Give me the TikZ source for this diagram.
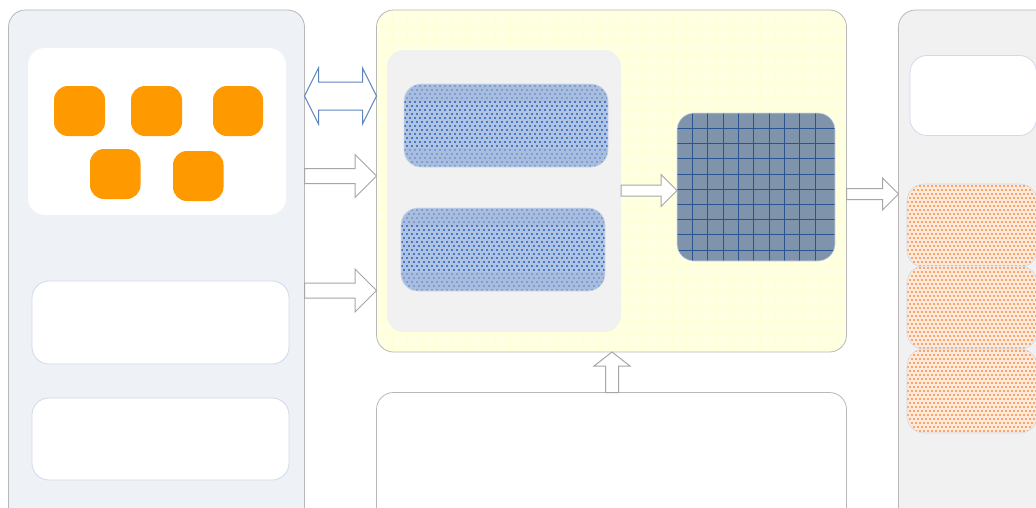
\documentclass[tikz,border=0pt]{standalone}
\usetikzlibrary{calc}
\definecolor{panelL}{HTML}{EEF1F6}
\definecolor{panelY}{HTML}{FFFFE2}
\definecolor{panelYl}{HTML}{FFFFD6}
\definecolor{panelG}{HTML}{F1F1F1}
\definecolor{edgeG}{HTML}{B8B8B8}
\definecolor{edgeB}{HTML}{CFDAEA}
\definecolor{orangeF}{HTML}{FF9900}
\definecolor{blueBase}{HTML}{AFC3E2}
\definecolor{blueBand}{HTML}{A9BEDF}
\definecolor{blueBandDot}{HTML}{7F9DD0}
\definecolor{blueDot}{HTML}{4A76C4}
\definecolor{darkBase}{HTML}{7F93AB}
\definecolor{darkLine}{HTML}{2A5491}
\definecolor{orangeDot}{HTML}{FBA468}
\definecolor{orangeBase}{HTML}{FDEADD}
\definecolor{arrowB}{HTML}{5B84BF}
\definecolor{arrowG}{HTML}{A6A6A6}
\tikzset{
  x=1pt,y=-1pt,
  box/.style={shape=rectangle,rounded corners=#1,line width=0.8pt,inner sep=0pt,outer sep=0pt},
  box/.default=17pt,
  blockarrow/.style={draw=arrowG,fill=white,line width=1pt,line join=miter},
  blockarrowB/.style={draw=arrowB,fill=white,line width=1pt,line join=miter},
}
% \rect{name}{x1}{y1}{x2}{y2}{style}: rounded node spanning the given box
\newcommand{\rect}[6]{%
  \pgfmathsetmacro{\wdx}{#4-#2}\pgfmathsetmacro{\htx}{#5-#3}%
  \node[box,#6,minimum width=\wdx pt,minimum height=\htx pt] (#1) at ({(#2+#4)/2},{(#3+#5)/2}) {};}
% right-pointing block arrow: start, tip, shaft half, head half, head length
\newcommand{\rightblock}[5]{%
  \draw[blockarrow] ($(#1)+(0,-#3)$) -- ($(#2)+(-#5,-#3)$) -- ($(#2)+(-#5,-#4)$) -- (#2)
    -- ($(#2)+(-#5,#4)$) -- ($(#2)+(-#5,#3)$) -- ($(#1)+(0,#3)$) -- cycle;}
% blue dotted box: dots snapped to the pixel grid
\newcommand{\bluebox}[5]{%
  \rect{#1}{#2}{#3}{#4}{#5}{fill=blueBase}
  \begin{scope}
    \clip[rounded corners=17pt] (#2,#3) rectangle (#4,#5);
    \fill[blueBand] (#2,#3) rectangle (#4,#3+18);
    \fill[blueBand] (#2,#5-19) rectangle (#4,#5);
    \foreach \r in {0,...,20}{
      \foreach \c in {0,...,41}{
        \pgfmathsetmacro{\px}{#2+\c*5+mod(\r,2)*2}
        \pgfmathsetmacro{\py}{#3+1+\r*4}
        \pgfmathsetmacro{\inband}{(\py<#3+16)||(\py>#5-19)}
        \ifdim\inband pt>0.5pt
          \fill[blueBandDot] (\px,\py) rectangle (\px+2,\py+2);
        \else
          \fill[blueDot] (\px,\py) rectangle (\px+2,\py+2);
        \fi
      }
    }
  \end{scope}
  \draw[rounded corners=17pt,draw=edgeB,line width=.6pt] (#2,#3) rectangle (#4,#5);}
% orange dotted box: dots snapped to the pixel grid
\newcommand{\orangebox}[5]{%
  \rect{#1}{#2}{#3}{#4}{#5}{fill=orangeBase}
  \begin{scope}
    \clip[rounded corners=17pt] (#2,#3) rectangle (#4,#5);
    \foreach \r in {0,...,21}{
      \foreach \c in {0,...,32}{
        \pgfmathsetmacro{\px}{#2+\c*4+mod(\r,2)*2}
        \pgfmathsetmacro{\py}{#3+1+\r*4}
        \fill[orangeDot] (\px,\py) rectangle (\px+2,\py+2);
      }
    }
  \end{scope}
  \draw[rounded corners=17pt,draw=edgeB,line width=.6pt] (#2,#3) rectangle (#4,#5);}
\begin{document}
\begin{tikzpicture}
\clip (0,0) rectangle (1036,507);
\fill[white] (0,0) rectangle (1036,507);
% left panel
\rect{left}{8.5}{10}{304.5}{530}{fill=panelL,draw=edgeG}
\rect{chips}{28}{48}{286}{215}{fill=white}
\rect{o1}{54}{86}{105}{136}{fill=orangeF,rounded corners=14pt}
\rect{o2}{131}{86}{182}{136}{fill=orangeF,rounded corners=14pt}
\rect{o3}{213}{86}{263}{136}{fill=orangeF,rounded corners=14pt}
\rect{o4}{90}{149}{140.5}{199}{fill=orangeF,rounded corners=14pt}
\rect{o5}{173}{151}{223.5}{201}{fill=orangeF,rounded corners=14pt}
\rect{l2}{32}{281}{289}{364}{fill=white,draw=edgeB}
\rect{l3}{32}{398}{289}{480}{fill=white,draw=edgeB}
% centre panel
\rect{centre}{376.5}{10}{846.5}{352}{fill=panelY,draw=edgeG}
\begin{scope}
  \clip[rounded corners=17pt] (377,11) rectangle (846,351);
  \foreach \i in {1,...,31} \draw[panelYl,line width=.8pt] (378+14.7*\i,10)--(378+14.7*\i,352);
  \foreach \i in {1,...,24} \draw[panelYl,line width=.8pt] (376,12+14*\i)--(846,12+14*\i);
\end{scope}
\rect{inner}{387}{50}{621}{332}{fill=panelG}
\bluebox{b1}{404}{84}{608}{167}
\bluebox{b2}{401}{208}{605}{291}
% dark grid
\rect{grid}{677}{113}{835}{261}{fill=darkBase}
\begin{scope}
  \clip[rounded corners=17pt] (677,113) rectangle (835,261);
  \foreach \i in {0,...,8} \draw[darkLine,line width=.6pt] (692.3+15.35*\i,113)--(692.3+15.35*\i,261);
  \foreach \i in {0,...,8} \draw[darkLine,line width=.6pt] (677,128.3+15.2*\i)--(835,128.3+15.2*\i);
\end{scope}
\draw[rounded corners=17pt,draw=edgeB,line width=.6pt] (677,113) rectangle (835,261);
% bottom box
\rect{bottom}{376.5}{392.5}{846.5}{530}{fill=white,draw=edgeG}
% right panel
\rect{right}{898.5}{10}{1060}{530}{fill=panelG,draw=edgeG}
\rect{r1}{910}{55.5}{1036.5}{135.5}{fill=white,draw=edgeB}
\orangebox{r2}{907}{184}{1037}{267}
\orangebox{r3}{907}{266}{1037}{349}
\orangebox{r4}{907}{349}{1037}{433}
% block arrows
\coordinate (a0l) at (left.east |- 0,96);
\coordinate (a0r) at (centre.west |- 0,96);
\draw[blockarrowB]
  (a0l) -- ($(a0l)+(14,-28)$) -- ($(a0l)+(14,-14)$) -- ($(a0r)+(-14,-14)$) -- ($(a0r)+(-14,-28)$) -- (a0r)
  -- ($(a0r)+(-14,28)$) -- ($(a0r)+(-14,14)$) -- ($(a0l)+(14,14)$) -- ($(a0l)+(14,28)$) -- cycle;
\coordinate (a1s) at (left.east |- 0,176); \coordinate (a1t) at (centre.west |- 0,176);
\rightblock{a1s}{a1t}{7.5}{21.5}{21.5}
\coordinate (a2s) at (left.east |- 0,290.5); \coordinate (a2t) at (centre.west |- 0,290.5);
\rightblock{a2s}{a2t}{7.5}{21.5}{21.5}
\coordinate (a3s) at (inner.east |- 0,190.5); \coordinate (a3t) at (grid.west |- 0,190.5);
\rightblock{a3s}{a3t}{5.5}{16}{16}
\coordinate (a4s) at (centre.east |- 0,194); \coordinate (a4t) at (right.west |- 0,194);
\rightblock{a4s}{a4t}{5.5}{16}{16}
\coordinate (a5b) at (bottom.north -| 612,0); \coordinate (a5t) at (centre.south -| 612,0);
\draw[blockarrow] ($(a5b)+(-6.5,0)$) -- ($(a5t)+(-6.5,14)$) -- ($(a5t)+(-18,14)$) -- (a5t)
  -- ($(a5t)+(18,14)$) -- ($(a5t)+(6.5,14)$) -- ($(a5b)+(6.5,0)$) -- cycle;
\end{tikzpicture}
\end{document}
